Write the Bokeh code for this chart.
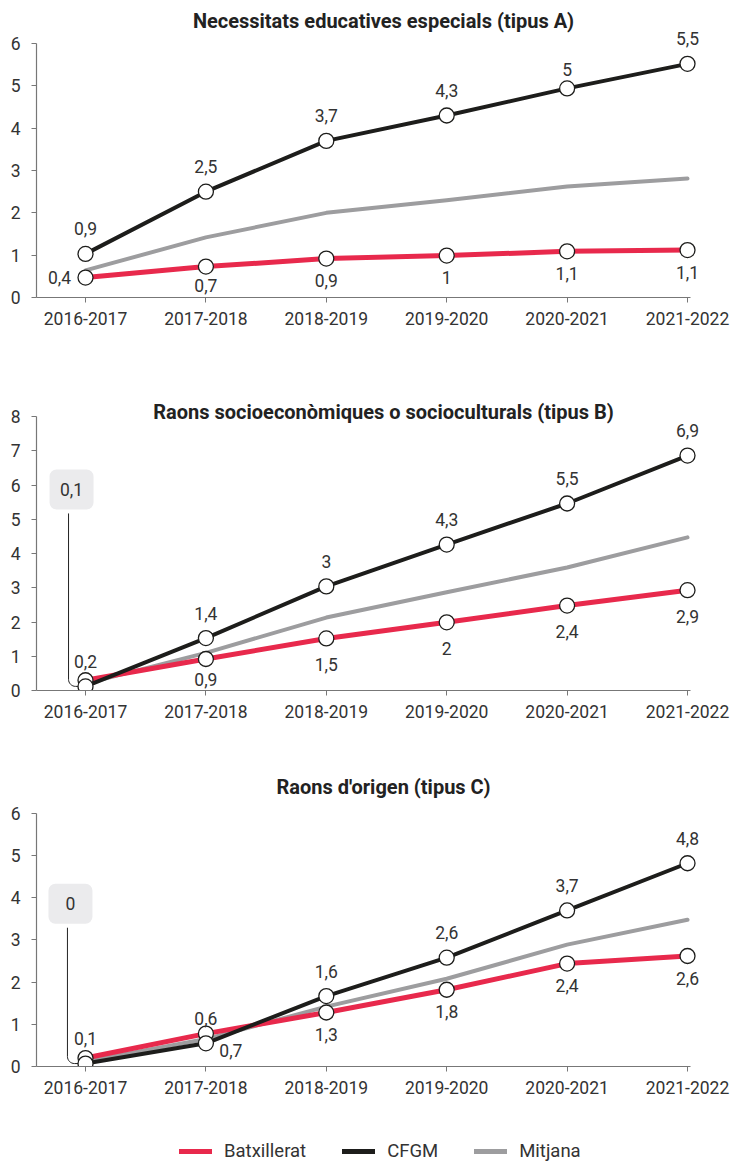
import math
from bokeh.plotting import figure
from bokeh.models import (ColumnDataSource, FixedTicker, Label, BoxAnnotation,
                          Legend, LegendItem, Range1d)
from bokeh.layouts import column
from bokeh.embed import file_html
from bokeh.resources import INLINE
from bokeh.core.properties import value

# ---------------- data ----------------
categories = ["2016-2017", "2017-2018", "2018-2019", "2019-2020", "2020-2021", "2021-2022"]

title_a = "Necessitats educatives especials (tipus A)"
a_batx = [0.47, 0.73, 0.92, 0.99, 1.09, 1.12]
a_cfgm = [1.03, 2.50, 3.70, 4.30, 4.94, 5.52]
a_mitjana = [0.64, 1.42, 2.00, 2.30, 2.62, 2.81]
a_batx_labels = ["0,4", "0,7", "0,9", "1", "1,1", "1,1"]
a_cfgm_labels = ["0,9", "2,5", "3,7", "4,3", "5", "5,5"]

title_b = "Raons socioeconòmiques o socioculturals (tipus B)"
b_batx = [0.30, 0.92, 1.52, 1.99, 2.48, 2.93]
b_cfgm = [0.12, 1.53, 3.04, 4.26, 5.46, 6.86]
b_mitjana = [0.20, 1.10, 2.13, 2.87, 3.59, 4.47]
b_batx_labels = ["0,1", "0,9", "1,5", "2", "2,4", "2,9"]
b_cfgm_labels = ["0,2", "1,4", "3", "4,3", "5,5", "6,9"]

title_c = "Raons d'origen (tipus C)"
c_batx = [0.20, 0.78, 1.28, 1.82, 2.44, 2.62]
c_cfgm = [0.07, 0.55, 1.67, 2.58, 3.70, 4.82]
c_mitjana = [0.12, 0.65, 1.42, 2.08, 2.89, 3.48]
c_batx_labels = ["0", "0,7", "1,3", "1,8", "2,4", "2,6"]
c_cfgm_labels = ["0,1", "0,6", "1,6", "2,6", "3,7", "4,8"]

series_names = ["Batxillerat", "CFGM", "Mitjana"]

# ---------------- style ----------------
FONT = "Roboto"
RED = "#e8294c"
BLACK = "#1d1d1b"
GRAY = "#9d9d9f"
TXT = "#333333"
AXIS = "#777777"
PX_X = 120.4
FRAME_W = 700
X0 = -0.407
X1 = X0 + FRAME_W / PX_X
TITLE_XC = 2.475


def make_panel(title, ymax, px_y, frame_h, bottom_border, batx, cfgm, mitj,
               batx_lab, cfgm_lab, batx_dy, batx_special, cfgm_special,
               callout=None, title_gap=23):
    p = figure(width=736, frame_width=FRAME_W, frame_height=frame_h,
               x_range=Range1d(X0, X1), y_range=Range1d(0, frame_h / px_y),
               output_backend="svg", toolbar_location=None,
               min_border_left=36, min_border_right=0,
               min_border_top=0, min_border_bottom=bottom_border)
    p.outline_line_color = None
    p.grid.visible = False
    p.background_fill_color = "white"
    p.border_fill_color = "white"

    xs = list(range(len(categories)))
    # axes
    p.xaxis.bounds = (X0, 5.025)
    p.xaxis.ticker = FixedTicker(ticks=xs)
    p.xaxis.major_label_overrides = {i: c for i, c in enumerate(categories)}
    p.yaxis.bounds = (0, ymax)
    p.yaxis.ticker = FixedTicker(ticks=list(range(0, ymax + 1)))
    for ax in (p.xaxis, p.yaxis):
        ax.axis_line_color = AXIS
        ax.axis_line_width = 1.2
        ax.major_tick_line_color = AXIS
        ax.major_tick_out = 5
        ax.major_tick_in = 0
        ax.minor_tick_line_color = None
        ax.major_label_text_font = FONT
        ax.major_label_text_font_size = "17.5px"
        ax.major_label_text_color = TXT
    p.xaxis.major_label_standoff = 9
    p.yaxis.major_label_standoff = 11

    # lines
    p.line(xs, mitj, line_color=GRAY, line_width=4, line_cap="round", line_join="round")
    p.line(xs, batx, line_color=RED, line_width=5, line_cap="round", line_join="round")
    p.line(xs, cfgm, line_color=BLACK, line_width=4, line_cap="round", line_join="round")

    # callout leader (drawn under markers)
    if callout is not None:
        bx, by = callout
        xl = bx - 3 / PX_X
        yt = min(batx[0], cfgm[0])
        r = 7
        cx, cy = xl + r / PX_X, yt + r / px_y
        lx = [xl, xl]
        ly = [by - 24 / px_y, cy]
        for k in range(1, 9):
            th = math.pi + (math.pi / 2) * k / 8
            lx.append(cx + (r / PX_X) * math.cos(th))
            ly.append(cy + (r / px_y) * math.sin(th))
        lx.append(xs[0])
        ly.append(yt)
        p.line(lx, ly, line_color="#222222", line_width=1)
        p.add_layout(BoxAnnotation(left=bx - 22 / PX_X, right=bx + 22 / PX_X,
                                   bottom=by - 20 / px_y, top=by + 20 / px_y,
                                   fill_color="#ebebed", fill_alpha=1, line_alpha=0,
                                   border_radius=7, level="underlay"))
        p.add_layout(Label(x=bx, y=by, text=batx_lab[0], text_align="center",
                           text_baseline="middle", text_font=FONT,
                           text_font_size="17.5px", text_color=TXT))

    # markers
    p.scatter(xs, batx, size=15, fill_color="white", line_color=BLACK, line_width=1.3)
    p.scatter(xs, cfgm, size=15, fill_color="white", line_color=BLACK, line_width=1.3)

    # data labels
    lx, ly, lt, ox, oy = [], [], [], [], []
    for i in xs:
        dx, dy = cfgm_special.get(i, (0, -25))
        lx.append(i); ly.append(cfgm[i]); lt.append(cfgm_lab[i]); ox.append(dx); oy.append(dy)
        if callout is not None and i == 0:
            continue
        dx, dy = batx_special.get(i, (0, batx_dy))
        lx.append(i); ly.append(batx[i]); lt.append(batx_lab[i]); ox.append(dx); oy.append(dy)
    src = ColumnDataSource(dict(x=lx, y=ly, text=lt, ox=ox, oy=oy))
    p.text(x="x", y="y", text="text", x_offset="ox", y_offset="oy", source=src,
           text_align="center", text_baseline="middle", text_font=value(FONT),
           text_font_size="17.5px", text_color=TXT)

    # title
    p.add_layout(Label(x=TITLE_XC, y=ymax + title_gap / px_y, text=title,
                       text_align="center", text_baseline="middle", text_font=FONT,
                       text_font_size="20px", text_font_style="bold", text_color="#222222"))
    return p


pA = make_panel(title_a, 6, 42.33, 297, 83, a_batx, a_cfgm, a_mitjana,
                a_batx_labels, a_cfgm_labels, 22, {0: (-26, 0), 1: (0, 19)},
                {4: (0, -19)}, None, 23)
pB = make_panel(title_b, 8, 34.25, 310, 75, b_batx, b_cfgm, b_mitjana,
                b_batx_labels, b_cfgm_labels, 26, {1: (0, 21)}, {},
                (-0.116, 5.87), 5)
pC = make_panel(title_c, 6, 42.17, 301, 54, c_batx, c_cfgm, c_mitjana,
                c_batx_labels, c_cfgm_labels, 22, {1: (25, 17)}, {},
                (-0.125, 3.86), 26)

# ---------------- legend strip ----------------
# the series are drawn again here but kept outside the visible y range;
# only their legend swatches show.
pL = figure(width=736, height=44, x_range=Range1d(0, 1), y_range=Range1d(100, 101),
            output_backend="svg", toolbar_location=None,
            x_axis_location=None, y_axis_location=None,
            min_border_left=0, min_border_right=0, min_border_top=0, min_border_bottom=0)
pL.outline_line_color = None
pL.grid.visible = False
xs_all = list(range(len(categories)))
leg_renderers = []
for col, ys in ((RED, c_batx), (BLACK, c_cfgm), (GRAY, c_mitjana)):
    leg_renderers.append(pL.line(xs_all, ys, line_color=col, line_width=5, line_cap="round"))
legend = Legend(items=[LegendItem(label=n, renderers=[r])
                       for n, r in zip(series_names, leg_renderers)],
                orientation="horizontal", location=(141, 0),
                label_text_font=FONT, label_text_font_size="18.5px", label_text_color=TXT,
                glyph_width=33, glyph_height=20, label_standoff=12, spacing=36,
                padding=2, margin=0, border_line_alpha=0, background_fill_alpha=0)
pL.add_layout(legend, "center")

layout = column(pA, pB, pC, pL, spacing=0)
open("out.html", "w").write(file_html(layout, INLINE))
